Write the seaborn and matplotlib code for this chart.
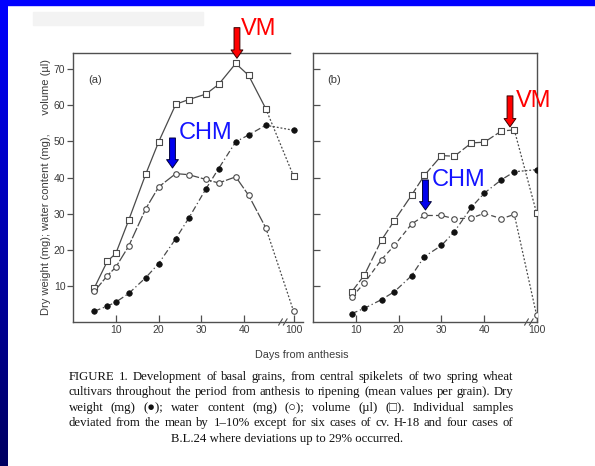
import numpy as np
import pandas as pd
import matplotlib
matplotlib.use("Agg")
import matplotlib.pyplot as plt
import matplotlib.transforms as mtransforms
import seaborn as sns

# ---- data: mean values per grain --------------------------------------
# (a) sampling days; the last harvest (day 100) sits beyond the axis break
days_a = [5, 8, 10, 13, 17, 20, 24, 27, 31, 34, 38, 41, 45, 100]
volume_a = [9.5, 16.8, 19.0, 28.2, 41.0, 49.9, 60.3, 61.6, 63.1, 65.8, 71.6, 68.3, 59.1, 40.4]
water_a = [8.5, 12.8, 15.2, 21.0, 31.4, 37.4, 41.1, 40.8, 39.5, 38.5, 40.2, 35.1, 26.1, 3.0]
dry_a = [3.0, 4.4, 5.5, 7.9, 12.3, 16.2, 23.1, 28.7, 36.8, 42.5, 49.9, 51.8, 54.5, 53.1]

# (b)
days_b = [9, 12, 16, 19, 23, 26, 30, 33, 37, 40, 44, 47, 100]
volume_b = [8.3, 13.0, 22.7, 28.1, 35.1, 40.6, 46.1, 45.9, 49.6, 49.8, 52.9, 53.2, 30.2]
water_b = [6.8, 10.8, 17.3, 21.2, 27.1, 29.5, 29.5, 28.6, 28.8, 30.1, 28.6, 29.8, 1.9]
dry_b = [2.3, 3.8, 6.2, 8.4, 12.8, 18.1, 21.2, 25.0, 31.8, 35.7, 39.4, 41.6, 42.2]

x_ticks = [10, 20, 30, 40, 100]
x_tick_labels = ["10", "20", "30", "40", "100"]
y_ticks = [10, 20, 30, 40, 50, 60, 70]
y_tick_labels = ["10", "20", "30", "40", "50", "60", "70"]

panel_labels = ["(a)", "(b)"]
y_label = "Dry weight (mg); water content (mg),      volume (\u00b5l)"
x_label = "Days from anthesis"
caption_lines = [
    "FIGURE 1. Development of basal grains, from central spikelets of two spring wheat",
    "cultivars throughout the period from anthesis to ripening (mean values per grain). Dry",
    "weight (mg) (\u25cf); water content (mg) (\u25cb); volume (\u00b5l) (\u25a1). Individual samples",
    "deviated from the mean by 1\u201310% except for six cases of cv. H-18 and four cases of",
    "B.L.24 where deviations up to 29% occurred.",
]

# ---- figure geometry (pixels) -----------------------------------------
W, H = 595, 466
DAY_CUT = 50          # days beyond this are drawn past the axis break


def fx(x):
    return x / W


def fy(y):
    return 1 - y / H


def build_frame(days, volume, water, dry, break_pos):
    rows = []
    for name, vals in (("volume", volume), ("water", water), ("dry", dry)):
        for d, v in zip(days, vals):
            rows.append(dict(series=name, day=d, value=v,
                             xpos=d if d < DAY_CUT else break_pos))
    return pd.DataFrame(rows)


sns.set_style("ticks")
plt.rcParams["font.family"] = ["Liberation Sans", "DejaVu Sans"]

fig = plt.figure(figsize=(W / 100, H / 100), dpi=100, facecolor="white")

# slide background: blue top strip and a shaded left strip
grad = np.linspace(0, 1, 256)[:, None]
band = fig.add_axes([0, 0, fx(8), 1])
band.imshow(np.dstack([np.zeros_like(grad), np.zeros_like(grad), 1.0 - 0.62 * grad]),
            aspect="auto", extent=[0, 1, 0, 1])
band.set_axis_off()
fig.patches.append(plt.Rectangle((0, fy(5)), 1, 5 / H, transform=fig.transFigure,
                                 color="#0000ff", zorder=5))
fig.patches.append(plt.Rectangle((fx(33), fy(25)), fx(170), 13 / H, transform=fig.transFigure,
                                 color="#f3f3f3", zorder=0))

INK = "#3c3c3c"
LINE = "#4a4a4a"

panels = [
    dict(df=build_frame(days_a, volume_a, water_a, dry_a, 51.5),
         box=(73, 53, 303, 322), xlim=(0, 53.7), break_day=49.0,
         styles={"volume": "-", "water": (0, (9, 1.5)), "dry": (0, (5, 2.2, 1, 2.2))},
         label_xy=(88, 83)),
    dict(df=build_frame(days_b, volume_b, water_b, dry_b, 52.2),
         box=(313, 53, 537, 322), xlim=(0, 52.3), break_day=50.4,
         styles={"volume": (0, (8, 2)), "water": (0, (4, 2.5)), "dry": (0, (5, 2.2, 1, 2.2))},
         label_xy=(327, 83)),
]

markers = {
    "volume": dict(marker="s", s=14, facecolor="white", edgecolor=LINE, linewidth=0.8),
    "water": dict(marker="o", s=16, facecolor="white", edgecolor=LINE, linewidth=0.8),
    "dry": dict(marker="o", s=16, facecolor="#111111", edgecolor="#111111", linewidth=0.5),
}

axes = []
for i, p in enumerate(panels):
    l, t, r, b = p["box"]
    ax = fig.add_axes([fx(l), fy(b), fx(r) - fx(l), (b - t) / H])
    axes.append(ax)
    df = p["df"]
    for name, grp in df.groupby("series", sort=False):
        main = grp[grp["day"] < DAY_CUT]
        tail = grp.tail(2)
        sns.lineplot(data=main, x="xpos", y="value", ax=ax, color=LINE, lw=0.9,
                     linestyle=p["styles"][name], estimator=None, sort=False, zorder=2)
        sns.lineplot(data=tail, x="xpos", y="value", ax=ax, color=LINE, lw=0.9,
                     linestyle=(0, (1.5, 1.5)), estimator=None, sort=False, zorder=2)
        sns.scatterplot(data=grp, x="xpos", y="value", ax=ax, zorder=3, **markers[name])

    ax.set_xlim(*p["xlim"])
    ax.set_ylim(0, 74.5)
    bp = df.loc[df["day"] >= DAY_CUT, "xpos"].iloc[0]
    ax.set_xticks([d if d < DAY_CUT else bp for d in x_ticks])
    ax.set_xticklabels(x_tick_labels)
    ax.set_yticks(y_ticks)
    ax.set_xlabel("")
    ax.set_ylabel("")
    for sp in ax.spines.values():
        sp.set_color("#505050")
        sp.set_linewidth(1.0)
    ax.tick_params(axis="x", direction="in", length=5, width=0.9, color="#505050",
                   labelsize=7.5, labelcolor=INK, pad=2)
    if i == 0:
        ax.set_yticklabels(y_tick_labels)
        ax.tick_params(axis="y", direction="out", length=4, width=0.9, color="#505050",
                       labelsize=7.5, labelcolor=INK, pad=1.5)
        ax.spines["right"].set_visible(False)
        ax.spines["top"].set_bounds(0, 50.7)
    else:
        ax.set_yticklabels([])
        ax.tick_params(axis="y", direction="in", length=5, width=0.9, color="#505050")
    ax.set_facecolor("none")

    # axis-break marks on the day axis
    bt = mtransforms.blended_transform_factory(ax.transData, ax.transAxes)
    for off in (-0.55, 0.55):
        ax.plot([p["break_day"] + off - 0.45, p["break_day"] + off + 0.45], [-0.012, 0.012],
                transform=bt, color="#505050", lw=0.8, clip_on=False)

    lx, ly = p["label_xy"]
    fig.text(fx(lx), fy(ly), panel_labels[i], fontsize=8, color=INK, ha="left", va="baseline")


def arrow(ax, x, y, dx, dy, length, face, edge):
    tip = mtransforms.offset_copy(ax.transData, fig=fig, x=dx, y=dy, units="dots")
    ax.annotate("", xy=(x, y), xycoords=tip, xytext=(0, length * 0.72),
                textcoords="offset points", annotation_clip=False,
                arrowprops=dict(arrowstyle="simple,head_length=0.6,head_width=0.85,tail_width=0.42",
                                mutation_scale=10, fc=face, ec=edge, lw=0.7,
                                shrinkA=0, shrinkB=0), zorder=6)


RED, RED_EDGE = "#ff0000", "#3a0000"
BLUE, BLUE_EDGE = "#0000ee", "#00003a"
# volume maximum (VM) and water-content maximum (CHM)
arrow(axes[0], 38, 71.6, 1.2, 5.2, 30.6, RED, RED_EDGE)
arrow(axes[0], 24, 41.1, -3.3, 5.6, 30.0, BLUE, BLUE_EDGE)
arrow(axes[1], 47, 53.2, -4.3, 3.0, 31.0, RED, RED_EDGE)
arrow(axes[1], 26, 29.5, 1.1, 5.5, 30.0, BLUE, BLUE_EDGE)

for txt, (x, y), col in (("VM", (241, 35), "#ff0000"), ("CHM", (179, 139), "#1414ff"),
                         ("VM", (516, 107), "#ff0000"), ("CHM", (432, 186), "#1414ff")):
    fig.text(fx(x), fy(y), txt, fontsize=17, color=col, ha="left", va="baseline",
             family=["Liberation Sans", "DejaVu Sans"])

# axis titles
fig.text(fx(46), fy(187), y_label, rotation=90, fontsize=8.0, color=INK,
         ha="center", va="center")
fig.text(fx(302), fy(355), x_label, fontsize=7.8, color=INK, ha="center", va="center")

# justified caption
serif = ["Liberation Serif", "DejaVu Serif"]
fig.canvas.draw()
renderer = fig.canvas.get_renderer()
left_px, right_px = 68.5, 513.5
probe_size = 10.0
probe = [fig.text(0, 0, ln, fontsize=probe_size, family=serif) for ln in caption_lines[:4]]
widest = max(t.get_window_extent(renderer).width for t in probe)
for t in probe:
    t.remove()
cap_size = probe_size * (right_px - left_px) / widest * 0.985
CAP_INK = "#121212"

baseline = 380.0
for k, ln in enumerate(caption_lines):
    y = baseline + 15.4 * k
    if k == len(caption_lines) - 1:
        fig.text(fx(287), fy(y), ln, fontsize=cap_size, family=serif, color=CAP_INK,
                 ha="center", va="baseline")
        continue
    words = ln.split(" ")
    texts = [fig.text(0, 0, w, fontsize=cap_size, family=serif, color=CAP_INK,
                      va="baseline") for w in words]
    widths = [t.get_window_extent(renderer).width for t in texts]
    gap = (right_px - left_px - sum(widths)) / (len(words) - 1)
    xcur = left_px
    for t, w in zip(texts, widths):
        t.set_position((fx(xcur), fy(y)))
        xcur += w + gap

fig.savefig("out.png", dpi=100, facecolor="white")
